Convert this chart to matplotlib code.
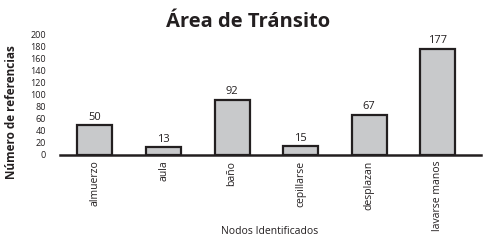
import matplotlib.pyplot as plt

plt.rcParams['font.family'] = ['Open Sans', 'DejaVu Sans']

nodos = ['almuerzo', 'aula', 'baño', 'cepillarse', 'desplazan', 'lavarse manos']
referencias = [50, 13, 92, 15, 67, 177]
yticks = list(range(0, 201, 20))

ink = '#231f20'

fig = plt.figure(figsize=(4.89, 2.40), dpi=100)
ax = fig.add_axes([60 / 489, 1 - 155 / 240, 421 / 489, 120 / 240])

x = range(len(nodos))
bars = ax.bar(x, referencias, width=0.51, color='#c8c9cb', edgecolor=ink,
              linewidth=1.6, zorder=2)
for xi, v in zip(x, referencias):
    ax.text(xi, v + 4, str(v), ha='center', va='bottom', fontsize=8, color=ink)

ax.set_xlim(-0.51, 5.63)
ax.set_ylim(0, 200)
ax.set_yticks(yticks)
ax.set_yticklabels([str(t) for t in yticks], fontsize=6.5, color=ink)
ax.set_xticks(list(x))
ax.set_xticklabels(nodos, rotation=90, fontsize=7.5, color=ink)
ax.tick_params(axis='both', length=0)
ax.tick_params(axis='y', pad=10)
ax.tick_params(axis='x', pad=4)

for s in ['top', 'right', 'left']:
    ax.spines[s].set_visible(False)
ax.spines['bottom'].set_linewidth(1.8)
ax.spines['bottom'].set_color(ink)
ax.spines['bottom'].set_zorder(3)

fig.text(248 / 489, 1 - 22 / 240, 'Área de Tránsito', ha='center', va='center',
         fontsize=14.5, fontweight='bold', color=ink)
fig.text(12 / 489, 1 - 112 / 240, 'Número de referencias', rotation=90,
         ha='center', va='center', fontsize=8.5, fontweight='bold', color=ink)
fig.text(270 / 489, 1 - 232 / 240, 'Nodos Identificados', ha='center',
         va='center', fontsize=7.5, color=ink)

fig.savefig('out.png', dpi=100)
